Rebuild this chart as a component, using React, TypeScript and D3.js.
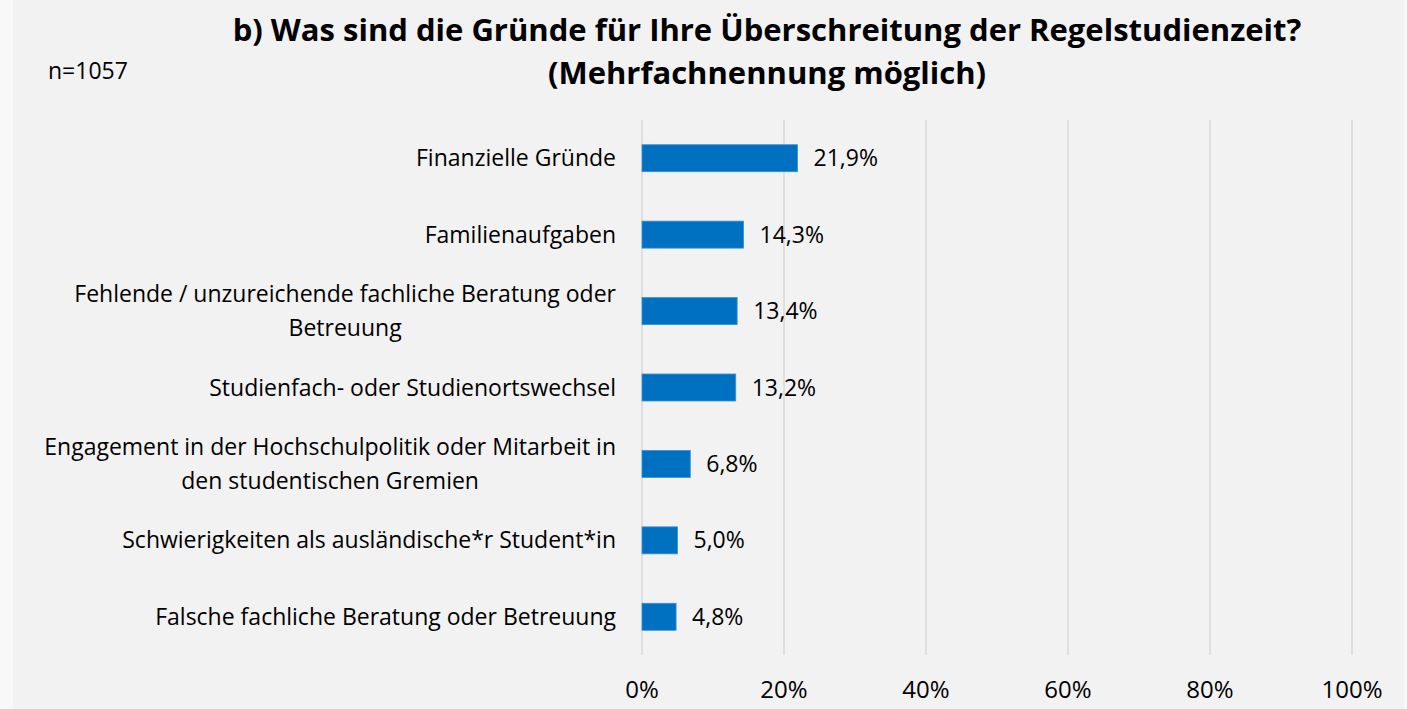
import React, { useEffect, useRef } from "react";
import * as d3 from "d3";

const W = 1407;
const H = 709;

const titleLines = [
  "b) Was sind die Gründe für Ihre Überschreitung der Regelstudienzeit?",
  "(Mehrfachnennung möglich)",
];
const sampleNote = "n=1057";

const categories = [
  "Finanzielle Gründe",
  "Familienaufgaben",
  "Fehlende / unzureichende fachliche Beratung oder|Betreuung",
  "Studienfach- oder Studienortswechsel",
  "Engagement in der Hochschulpolitik oder Mitarbeit in|den studentischen Gremien",
  "Schwierigkeiten als ausländische*r Student*in",
  "Falsche fachliche Beratung oder Betreuung",
];
const values = [0.219, 0.143, 0.134, 0.132, 0.068, 0.05, 0.048];
const ticks = [0, 0.2, 0.4, 0.6, 0.8, 1];

const FONT = "'Open Sans', 'Noto Sans', sans-serif";

const BarChart = () => {
  const ref = useRef<SVGSVGElement>(null);

  useEffect(() => {
    const svg = d3.select(ref.current);
    svg.selectAll("*").remove();

    const margin = { top: 120, right: 55, bottom: 54, left: 642 };

    svg.append("rect").attr("width", W).attr("height", H).attr("fill", "#f8f8f8");
    svg
      .append("rect")
      .attr("x", 13)
      .attr("width", 1391)
      .attr("height", H)
      .attr("fill", "#f2f2f2");

    const x = d3
      .scaleLinear()
      .domain([0, 1])
      .range([margin.left, W - margin.right]);
    const y = d3
      .scaleBand()
      .domain(categories)
      .range([margin.top, H - margin.bottom])
      .paddingInner(0.647)
      .paddingOuter(0.3235);

    // title
    svg
      .append("g")
      .selectAll("text")
      .data(titleLines)
      .enter()
      .append("text")
      .attr("x", 767)
      .attr("y", (d, i) => 41 + i * 43)
      .attr("text-anchor", "middle")
      .attr("font-family", FONT)
      .attr("font-weight", "bold")
      .attr("font-size", "31px")
      .attr("fill", "#000")
      .text((d) => d);

    svg
      .append("text")
      .attr("x", 48)
      .attr("y", 79)
      .attr("font-family", FONT)
      .attr("font-size", "23px")
      .text(sampleNote);

    // gridlines
    svg
      .append("g")
      .selectAll("line")
      .data(ticks)
      .enter()
      .append("line")
      .attr("x1", (d) => x(d))
      .attr("x2", (d) => x(d))
      .attr("y1", margin.top)
      .attr("y2", H - margin.bottom)
      .attr("stroke", "#d9d9d9")
      .attr("stroke-width", 1.5);

    // tick labels
    svg
      .append("g")
      .selectAll("text")
      .data(ticks)
      .enter()
      .append("text")
      .attr("x", (d) => x(d))
      .attr("y", 698)
      .attr("text-anchor", "middle")
      .attr("font-family", FONT)
      .attr("font-size", "24px")
      .text((d) => d3.format(".0%")(d));

    // bars
    svg
      .append("g")
      .selectAll("rect")
      .data(values)
      .enter()
      .append("rect")
      .attr("x", x(0))
      .attr("y", (d, i) => y(categories[i])!)
      .attr("width", (d) => x(d) - x(0))
      .attr("height", y.bandwidth())
      .attr("fill", "#0070c0")
      .attr("stroke", "#3a8fd6")
      .attr("stroke-width", 0.8);

    // value labels
    const fmt = (v: number) => (v * 100).toFixed(1).replace(".", ",") + "%";
    svg
      .append("g")
      .selectAll("text")
      .data(values)
      .enter()
      .append("text")
      .attr("x", (d) => x(d) + 16)
      .attr("y", (d, i) => y(categories[i])! + y.bandwidth() / 2)
      .attr("dy", "0.35em")
      .attr("font-family", FONT)
      .attr("font-size", "23px")
      .text((d) => fmt(d));

    // category labels, multi-line ones centred as a block
    const labelRight = 616;
    const lineH = 34;
    categories.forEach((c) => {
      const lines = c.split("|");
      const cy = y(c)! + y.bandwidth() / 2;
      const g = svg.append("g");
      const texts = lines.map((ln, i) =>
        g
          .append("text")
          .attr("x", labelRight)
          .attr("y", cy + (i - (lines.length - 1) / 2) * lineH)
          .attr("dy", "0.35em")
          .attr("text-anchor", "end")
          .attr("font-family", FONT)
          .attr("font-size", "23px")
          .text(ln)
      );
      if (lines.length > 1) {
        const maxW = d3.max(texts, (t) => (t.node() as SVGTextElement).getComputedTextLength())!;
        texts.forEach((t) => t.attr("text-anchor", "middle").attr("x", labelRight - maxW / 2));
      }
    });
  }, []);

  return <svg ref={ref} width={W} height={H} style={{ display: "block" }}></svg>;
};

export default function App() {
  return (
    <div>
      <style>{`body{margin:0}`}</style>
      <BarChart />
    </div>
  );
}
